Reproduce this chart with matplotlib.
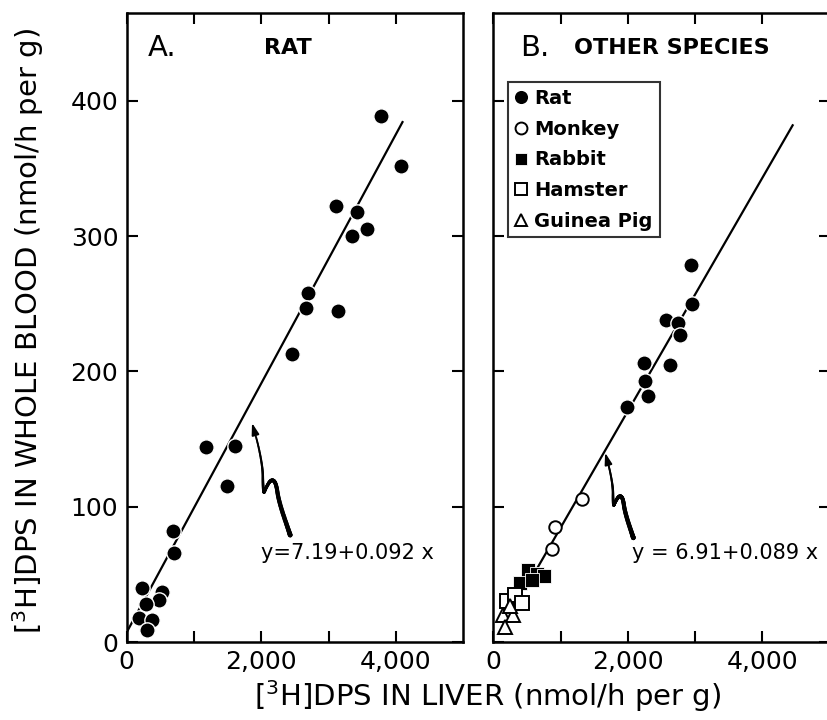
import numpy as np
import matplotlib.pyplot as plt
from matplotlib.collections import LineCollection
from matplotlib.transforms import IdentityTransform

# Panel A: rat, liver vs whole blood (nmol/h per g)
rat_a_liver = [3775, 4079, 3113, 3429, 3568, 3355, 2701, 2662, 3137, 2458,
               1175, 1610, 1496, 684, 703, 232, 520, 480, 282, 183, 381, 297]
rat_a_blood = [389, 352, 322, 318, 305, 300, 258, 247, 245, 213,
               144, 145, 115, 82, 66, 40, 37, 31, 28, 18, 16, 9]
fit_a_x = [0, 4100]
fit_a_coef = (7.19, 0.092)

# Panel B: other species
rat_b_liver = [2935, 2960, 2560, 2749, 2775, 2241, 2628, 2256, 2305, 1993]
rat_b_blood = [279, 250, 238, 236, 227, 206, 205, 193, 182, 174]
monkey_liver = [1314, 920, 870]
monkey_blood = [106, 85, 69]
rabbit_liver = [520, 650, 760, 400, 580]
rabbit_blood = [53, 50, 49, 44, 46]
hamster_liver = [199, 322, 421]
hamster_blood = [30, 35, 29]
gpig_liver = [149, 298, 174, 250]
gpig_blood = [20, 20, 11, 27]
fit_b_x = [600, 4450]
fit_b_y = [50, 382]

x_ticks = [0, 1000, 2000, 3000, 4000]
x_ticklabels = ["0", "", "2,000", "", "4,000"]
y_ticks = [0, 100, 200, 300, 400]

plt.rcParams["font.family"] = "DejaVu Sans"

fig = plt.figure(figsize=(8.27, 7.2), dpi=100)
ax_a = fig.add_axes([0.1532, 0.1083, 0.4067, 0.8736])
ax_b = fig.add_axes([0.5965, 0.1083, 0.4067, 0.8736])

for ax in (ax_a, ax_b):
    ax.set_xlim(0, 5000)
    ax.set_ylim(0, 465)
    ax.set_xticks(x_ticks)
    ax.set_xticklabels(x_ticklabels)
    ax.set_yticks(y_ticks)
    ax.tick_params(direction="in", length=8, width=1.5, top=True, right=True,
                   labelsize=18, pad=6)
    for s in ax.spines.values():
        s.set_linewidth(1.8)
ax_b.set_yticklabels([])

dot = dict(color="black", marker="o", ms=11, ls="none", mec="white", mew=1.0, zorder=3)

# panel A
xa = np.array(fit_a_x)
ax_a.plot(xa, fit_a_coef[0] + fit_a_coef[1] * xa, color="black", lw=1.6, zorder=2)
ax_a.plot(rat_a_liver, rat_a_blood, **dot)
ax_a.text(0.063, 0.945, "A.", transform=ax_a.transAxes, fontsize=21, va="center")
ax_a.text(0.48, 0.945, "RAT", transform=ax_a.transAxes, fontsize=16,
          fontweight="bold", va="center", ha="center")
ax_a.text(2000, 66, "y=7.19+0.092 x", fontsize=15, va="center")

# panel B
ax_b.plot(fit_b_x, fit_b_y, color="black", lw=1.6, zorder=2)
ax_b.plot(rat_b_liver, rat_b_blood, label="Rat", **dot)
ax_b.plot(monkey_liver, monkey_blood, marker="o", ms=9, ls="none", mfc="white",
          mec="black", mew=1.4, label="Monkey", zorder=3)
ax_b.plot(rabbit_liver, rabbit_blood, marker="s", ms=9.5, ls="none", color="black",
          mec="white", mew=0.6, label="Rabbit", zorder=3)
ax_b.plot(hamster_liver, hamster_blood, marker="s", ms=9.5, ls="none", mfc="white",
          mec="black", mew=1.4, label="Hamster", zorder=3)
ax_b.plot(gpig_liver, gpig_blood, marker="^", ms=9.5, ls="none", mfc="white",
          mec="black", mew=1.4, label="Guinea Pig", zorder=3)
ax_b.text(0.079, 0.945, "B.", transform=ax_b.transAxes, fontsize=21, va="center")
ax_b.text(0.24, 0.945, "OTHER SPECIES", transform=ax_b.transAxes, fontsize=16,
          fontweight="bold", va="center")
ax_b.text(2060, 66, "y = 6.91+0.089 x", fontsize=15, va="center")

leg = ax_b.legend(loc="upper left", bbox_to_anchor=(0.044, 0.89), frameon=True,
                  fancybox=False, edgecolor="black", borderpad=0.35,
                  borderaxespad=0, handlelength=0.6, handletextpad=0.4,
                  labelspacing=0.6, markerscale=0.95,
                  prop={"weight": "bold", "size": 14})
leg.get_frame().set_linewidth(1.5)


def chaikin(pts, n=4):
    for _ in range(n):
        q = 0.75 * pts[:-1] + 0.25 * pts[1:]
        r = 0.25 * pts[:-1] + 0.75 * pts[1:]
        new = np.empty((2 * len(q), 2))
        new[0::2] = q
        new[1::2] = r
        pts = np.vstack([pts[:1], new, pts[-1:]])
    return pts


def squiggle(ax, tip, tail):
    # wavy pointer from the equation up to the fitted line
    fig.canvas.draw()
    p_tip = ax.transData.transform(tip)
    p_tail = ax.transData.transform(tail)
    d = p_tip - p_tail
    L = np.hypot(*d)
    u = d / L
    n = np.array([-u[1], u[0]])
    shape = np.array([[0, 0], [0.30, 0.0], [0.46, -0.03], [0.50, 0.00],
                      [0.44, 0.07], [0.40, 0.10], [0.48, 0.08], [0.60, 0.04],
                      [0.80, 0.01], [1.0, 0]])
    ctrl = p_tail + np.outer(shape[:, 0] * L, u) + np.outer(shape[:, 1] * L, n)
    pts = chaikin(ctrl)
    pts = pts[pts @ u - p_tail @ u < 0.88 * L]
    segs = np.stack([pts[:-1], pts[1:]], axis=1)
    widths = np.linspace(3.4, 1.3, len(segs))
    lc = LineCollection(segs, linewidths=widths, colors="black",
                        transform=IdentityTransform(), capstyle="round")
    ax.add_collection(lc)
    ax.annotate("", xy=p_tip, xytext=pts[-1], xycoords=IdentityTransform(),
                textcoords=IdentityTransform(),
                arrowprops=dict(arrowstyle="-|>,head_length=0.7,head_width=0.22",
                                color="black", lw=1.3, shrinkA=0, shrinkB=0))


squiggle(ax_a, (1863, 162), (2431, 79))
squiggle(ax_b, (1662, 140), (2082, 77))

fig.text(0.034, 0.54, r"[$^3$H]DPS IN WHOLE BLOOD (nmol/h per g)", rotation=90,
         fontsize=21, ha="center", va="center")
fig.text(0.59, 0.033, r"[$^3$H]DPS IN LIVER (nmol/h per g)", fontsize=21,
         ha="center", va="center")

fig.savefig("out.png", dpi=100)
